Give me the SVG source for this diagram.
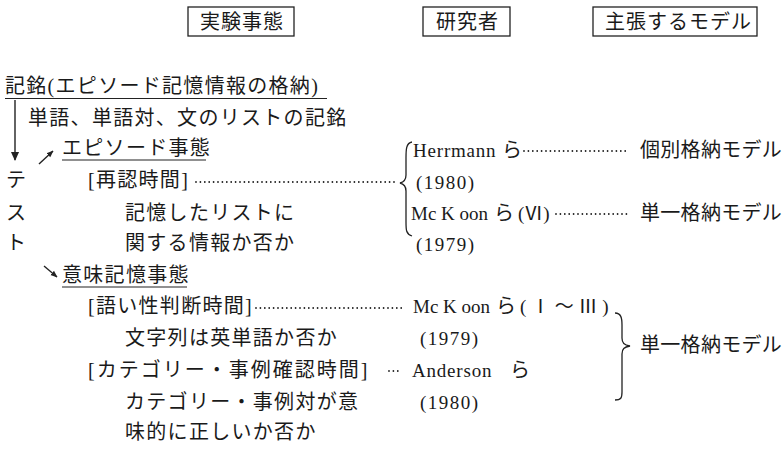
<svg xmlns="http://www.w3.org/2000/svg" width="784" height="449" viewBox="0 0 784 449">
<style>
text{font-family:"Liberation Serif","Noto Sans CJK JP",serif;fill:#1a1a1a;}
.jp{font-size:20px;letter-spacing:1.3px;}
.hd{font-size:20px;letter-spacing:1px;}
.md{font-size:20px;letter-spacing:0.3px;}
.en{font-size:19px;letter-spacing:0.8px;}
.mk{font-size:19px;letter-spacing:0px;}
.yr{font-size:19px;letter-spacing:1.5px;}
.box{fill:none;stroke:#222;stroke-width:1.3;}
.ul{stroke:#222;stroke-width:1.2;}
.dots{stroke:#222;stroke-width:1.8;stroke-linecap:round;stroke-dasharray:0 4.4;fill:none;}
.br{fill:none;stroke:#222;stroke-width:1.3;}
.ar{stroke:#222;stroke-width:1.4;fill:none;}
</style>
<defs>
<marker id="ah" viewBox="0 0 10 10" refX="9" refY="5" markerWidth="10" markerHeight="9" orient="auto" markerUnits="userSpaceOnUse">
<path d="M0,0.5 L10,5 L0,9.5 Z" fill="#222"/>
</marker>
<marker id="ahs" viewBox="0 0 10 10" refX="9" refY="5" markerWidth="7" markerHeight="7" orient="auto" markerUnits="userSpaceOnUse">
<path d="M0,1 L10,5 L0,9 Z" fill="#222"/>
</marker>
</defs>

<g id="header-experiment">
<rect class="box" x="188" y="7" width="106" height="29"/>
<text class="hd" x="200" y="29">実験事態</text>
</g>
<g id="header-researcher">
<rect class="box" x="423" y="7" width="87" height="29"/>
<text class="hd" x="436" y="29">研究者</text>
</g>
<g id="header-model">
<rect class="box" x="593" y="7" width="164" height="29"/>
<text class="hd" x="605" y="29">主張するモデル</text>
</g>

<g id="encoding">
<text class="jp" x="5" y="93">記銘(エピソード記憶情報の格納)</text>
<line class="ul" x1="5" y1="98.5" x2="327" y2="98.5"/>
<text class="jp" x="28" y="125">単語、単語対、文のリストの記銘</text>
</g>

<g id="test">
<text class="jp" x="6" y="187">テ</text>
<text class="jp" x="6" y="220">ス</text>
<text class="jp" x="6" y="250">ト</text>
</g>

<g id="episodic">
<text class="jp" x="62" y="155">エピソード事態</text>
<line class="ul" x1="62" y1="160" x2="206" y2="160"/>
<text class="jp" x="88" y="187">[再認時間]</text>
<text class="jp" x="125" y="220">記憶したリストに</text>
<text class="jp" x="125" y="250">関する情報か否か</text>
</g>

<g id="semantic">
<text class="jp" x="62" y="282">意味記憶事態</text>
<line class="ul" x1="62" y1="287" x2="187" y2="287"/>
<text class="jp" x="88" y="313">[語い性判断時間]</text>
<text class="jp" x="125" y="345">文字列は英単語か否か</text>
<text class="jp" x="88" y="377" style="letter-spacing:2px">[カテゴリー・事例確認時間]</text>
<text class="jp" x="125" y="409">カテゴリー・事例対が意</text>
<text class="jp" x="125" y="439">味的に正しいか否か</text>
</g>

<g id="herrmann">
<text class="en" x="413" y="157">Herrmann</text>
<text class="jp" x="502" y="157">ら</text>
<text class="yr" x="416" y="189">(1980)</text>
</g>
<g id="mckoon-vi">
<text class="mk" x="411" y="220">Mc K oon</text>
<text class="jp" x="494" y="220">ら</text>
<text class="mk" x="518" y="220">(Ⅵ)</text>
<text class="yr" x="416" y="251">(1979)</text>
</g>
<g id="mckoon-i-iii">
<text class="mk" x="413" y="313">Mc K oon</text>
<text class="jp" x="496" y="313">ら</text>
<text class="mk" x="520" y="313">( Ⅰ ～ Ⅲ )</text>
<text class="yr" x="420" y="345">(1979)</text>
</g>
<g id="anderson">
<text class="en" x="412" y="377">Anderson</text>
<text class="jp" x="510" y="377">ら</text>
<text class="yr" x="420" y="409">(1980)</text>
</g>

<g id="model-separate">
<text class="md" x="640" y="157">個別格納モデル</text>
</g>
<g id="model-single-1">
<text class="md" x="640" y="220">単一格納モデル</text>
</g>
<g id="model-single-2">
<text class="md" x="640" y="352">単一格納モデル</text>
</g>

<g id="connectors">
<line class="ar" x1="15" y1="100" x2="15" y2="160" marker-end="url(#ah)"/>
<line class="ar" x1="39" y1="164" x2="53" y2="151" marker-end="url(#ahs)"/>
<line class="ar" x1="44" y1="266" x2="57" y2="277" marker-end="url(#ahs)"/>
<line class="dots" x1="196" y1="182" x2="397" y2="182"/>
<line class="dots" x1="256" y1="308" x2="402" y2="308"/>
<line class="dots" x1="389" y1="371" x2="398" y2="371"/>
<line class="dots" x1="524" y1="151" x2="628" y2="151"/>
<line class="dots" x1="556" y1="214" x2="628" y2="214"/>
<path class="br" d="M412,142 C406,143 406,150 406,158 L406,175 C406,180 404,182 400,183 C404,184 406,186 406,191 L406,222 C406,230 406,234 412,236"/>
<path class="br" d="M615,313 C621,313 622,318 622,325 L622,338 C622,343 624,345 630,346 C624,347 622,349 622,354 L622,392 C622,398 621,400 615,400"/>
</g>
</svg>
